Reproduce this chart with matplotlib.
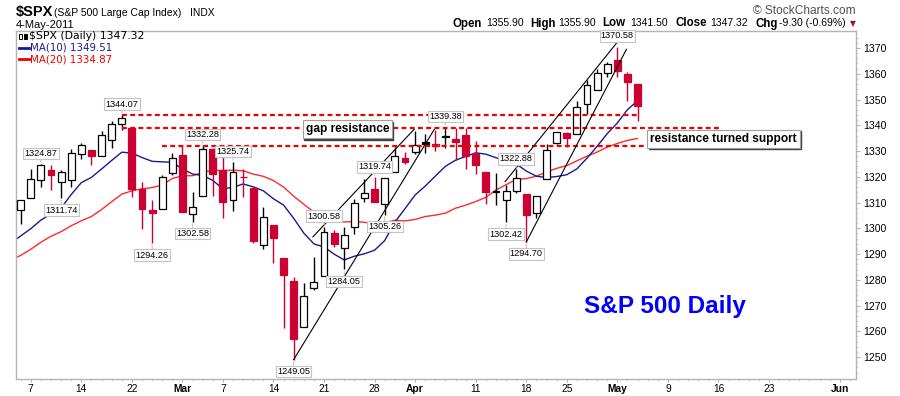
import matplotlib

matplotlib.use("Agg")
import matplotlib.pyplot as plt  # noqa: E402
import numpy as np  # noqa: E402
import pandas as pd  # noqa: E402
from matplotlib.patches import Rectangle  # noqa: E402

plt.rcParams["font.family"] = ["Liberation Sans", "DejaVu Sans"]

# ---- data: $SPX daily bars, 4-Feb-2011 .. 4-May-2011 ----
dates = [
    "Feb 4", "Feb 7", "Feb 8", "Feb 9", "Feb 10", "Feb 11", "Feb 14", "Feb 15",
    "Feb 16", "Feb 17", "Feb 18", "Feb 22", "Feb 23", "Feb 24", "Feb 25", "Feb 28",
    "Mar 1", "Mar 2", "Mar 3", "Mar 4", "Mar 7", "Mar 8", "Mar 9", "Mar 10",
    "Mar 11", "Mar 14", "Mar 15", "Mar 16", "Mar 17", "Mar 18", "Mar 21", "Mar 22",
    "Mar 23", "Mar 24", "Mar 25", "Mar 28", "Mar 29", "Mar 30", "Mar 31",
    "Apr 1", "Apr 4", "Apr 5", "Apr 6", "Apr 7", "Apr 8", "Apr 11", "Apr 12",
    "Apr 13", "Apr 14", "Apr 15", "Apr 18", "Apr 19", "Apr 20", "Apr 21",
    "Apr 25", "Apr 26", "Apr 27", "Apr 28", "Apr 29", "May 2", "May 3", "May 4",
]
opens = [
    1307.01, 1311.85, 1318.76, 1322.48, 1318.13, 1318.66, 1328.73, 1330.43,
    1328.23, 1334.37, 1340.38, 1338.91, 1315.44, 1307.09, 1307.34, 1321.61,
    1328.64, 1305.47, 1312.37, 1330.73, 1322.72, 1311.05, 1319.92, 1315.72,
    1293.43, 1301.19, 1288.46, 1279.46, 1261.61, 1276.71, 1281.65, 1298.29,
    1292.19, 1300.61, 1311.80, 1315.45, 1309.37, 1321.89, 1327.44,
    1329.48, 1333.56, 1332.03, 1335.94, 1334.82, 1336.16, 1329.01, 1321.96,
    1314.03, 1311.13, 1314.54, 1313.35, 1305.99, 1319.12, 1333.23,
    1337.14, 1336.75, 1348.43, 1353.86, 1360.14, 1365.21, 1359.76, 1355.90,
]
highs = [
    1311.00, 1322.85, 1324.87, 1324.54, 1322.78, 1330.79, 1332.96, 1330.43,
    1337.61, 1341.50, 1344.07, 1338.91, 1317.91, 1310.91, 1320.61, 1329.38,
    1332.09, 1314.19, 1332.28, 1331.08, 1327.68, 1325.74, 1323.21, 1315.72,
    1308.35, 1301.19, 1288.46, 1280.91, 1278.88, 1288.88, 1300.58, 1299.35,
    1300.51, 1311.34, 1319.18, 1319.74, 1319.45, 1331.74, 1329.77,
    1337.85, 1336.74, 1338.21, 1339.38, 1338.80, 1338.90, 1333.77, 1321.96,
    1321.35, 1316.79, 1322.88, 1313.35, 1312.70, 1332.66, 1337.49,
    1337.55, 1349.55, 1357.49, 1361.71, 1364.56, 1370.58, 1360.84, 1355.90,
]
lows = [
    1301.67, 1311.85, 1316.03, 1314.89, 1311.74, 1316.08, 1326.90, 1324.61,
    1328.23, 1331.00, 1338.12, 1312.33, 1299.55, 1294.26, 1307.34, 1320.55,
    1306.14, 1302.58, 1312.37, 1312.59, 1303.99, 1306.86, 1312.27, 1294.21,
    1291.99, 1286.37, 1261.12, 1249.05, 1261.61, 1276.18, 1281.65, 1292.70,
    1284.05, 1297.74, 1310.15, 1310.19, 1305.26, 1321.89, 1325.03,
    1328.89, 1329.10, 1330.03, 1331.09, 1326.56, 1322.94, 1321.06, 1309.51,
    1309.19, 1302.42, 1313.68, 1294.70, 1303.97, 1319.12, 1332.83,
    1331.47, 1336.75, 1344.25, 1353.60, 1358.69, 1358.59, 1349.52, 1341.50,
]
closes = [
    1310.87, 1319.05, 1324.57, 1320.88, 1321.87, 1329.15, 1332.32, 1328.01,
    1336.32, 1340.43, 1343.01, 1315.44, 1307.40, 1306.10, 1319.88, 1327.22,
    1306.33, 1308.44, 1330.97, 1321.15, 1310.13, 1321.82, 1320.02, 1295.11,
    1304.28, 1296.39, 1281.87, 1256.88, 1273.72, 1279.21, 1298.38, 1293.77,
    1297.54, 1309.66, 1313.80, 1310.19, 1319.44, 1328.26, 1325.83,
    1332.41, 1332.87, 1332.63, 1335.54, 1333.51, 1328.17, 1324.46, 1314.16,
    1314.41, 1314.52, 1319.68, 1305.14, 1312.62, 1330.36, 1337.38,
    1335.25, 1347.24, 1355.66, 1360.48, 1363.61, 1361.22, 1356.62, 1347.32,
]
# closes 5-Jan .. 3-Feb, only needed to seed the moving averages
prior_closes = [
    1276.56, 1273.85, 1271.50, 1269.75, 1274.48, 1285.96, 1283.76, 1293.24,
    1295.02, 1281.92, 1280.26, 1283.35, 1290.84, 1291.18, 1296.63, 1299.54,
    1276.34, 1286.12, 1307.59, 1304.03, 1307.10,
]

# x-axis: bar number (7-Feb = 0) of each labelled date
tick_pos = [0, 5, 10, 15, 19, 24, 29, 34, 38, 44, 49, 53, 58, 63, 68, 73, 80]
tick_labels = ["7", "14", "22", "Mar", "7", "14", "21", "28", "Apr",
               "11", "18", "25", "May", "9", "16", "23", "Jun"]
month_labels = ["Mar", "Apr", "May", "Jun"]

# high / low value flags
flag_bars = ["Feb 8", "Feb 10", "Feb 18", "Feb 24", "Mar 2", "Mar 3", "Mar 8",
             "Mar 16", "Mar 21", "Mar 23", "Mar 28", "Mar 29", "Apr 6",
             "Apr 14", "Apr 15", "Apr 18", "May 2"]
flag_side = ["high", "low", "high", "low", "low", "high", "high",
             "low", "high", "low", "high", "low", "high",
             "low", "high", "low", "high"]

# hand-drawn annotations (bar number, price)
wedge_lines = [
    ([26.0, 39.9], [1249.05, 1338.4]),
    ([27.9, 37.9], [1296.7, 1338.4]),
    ([49.0, 58.9], [1294.70, 1369.5]),
    ([46.9, 57.9], [1318.1, 1371.8]),
]
level_prices = [1344.07, 1339.0, 1331.8]
level_start = [9, 9, 13]
level_end = [60.1, 68.2, 64.2]

RED = "#cc0033"

# ---- figure ----
W, H = 900, 396
fig = plt.figure(figsize=(9, 3.96), dpi=100)


def fx(px):
    return px / W


def fy(py):
    return 1 - py / H


ax = fig.add_axes([fx(16), fy(379), (856 - 16) / W, (379 - 31) / H])

x = np.arange(len(dates)) - 1
prev_close = [prior_closes[-1]] + closes[:-1]

# moving averages
all_closes = pd.Series(prior_closes + closes)
x_all = np.arange(len(all_closes)) - len(prior_closes) - 1
ma10 = all_closes.rolling(10).mean()
ma20 = all_closes.rolling(20).mean()
keep = x_all >= -2
ax.plot(x_all[keep], ma20[keep], color="#ff2a2a", lw=1.0, zorder=2)
ax.plot(x_all[keep], ma10[keep], color="#1a1a90", lw=1.0, zorder=2)

# candles
body_w = 0.68
for xi, o, h, lo, c, pc in zip(x, opens, highs, lows, closes, prev_close):
    col = RED if c < pc else "black"
    ax.plot([xi, xi], [lo, h], color=col, lw=1.0, zorder=3, solid_capstyle="butt")
    face = col if c < o else "white"
    ax.add_patch(Rectangle((xi - body_w / 2, min(o, c)), body_w, abs(c - o),
                           facecolor=face, edgecolor=col, lw=0.9, zorder=4))

# dashed resistance / support levels
for p, s, e in zip(level_prices, level_start, level_end):
    ax.plot([s, e], [p, p], color="#ee0000", lw=1.6, ls=(0, (2.2, 1.5)), zorder=5)

# wedge trend lines
for xs, ys in wedge_lines:
    ax.plot(xs, ys, color="black", lw=0.8, zorder=5)

# value flags
for d, side in zip(flag_bars, flag_side):
    i = dates.index(d)
    v = highs[i] if side == "high" else lows[i]
    dy = 7.6 if side == "high" else -8.6
    ax.annotate(f"{v:.2f}", xy=(x[i], v), xytext=(0, dy),
                textcoords="offset points", ha="center", va="center",
                fontsize=6.6, zorder=7,
                bbox=dict(boxstyle="square,pad=0.14", fc="white",
                          ec="#c4c4c4", lw=0.8),
                arrowprops=dict(arrowstyle="-", color="#c4c4c4", lw=0.8,
                                shrinkA=0, shrinkB=1.5))


def boxed_note(txt, xc, yc):
    # dark shadow first, then the white box
    ax.annotate(txt, xy=(xc, yc), xytext=(1.0, -1.0), textcoords="offset points",
                ha="center", va="center", fontsize=8.6, fontweight="bold",
                color=(0, 0, 0, 0), zorder=7,
                bbox=dict(boxstyle="square,pad=0.25", fc="#404040", ec="#404040"))
    ax.annotate(txt, xy=(xc, yc), xytext=(0, 0), textcoords="offset points",
                ha="center", va="center", fontsize=8.6, fontweight="bold",
                color="black", zorder=8,
                bbox=dict(boxstyle="square,pad=0.25", fc="white", ec="#a0a0a0",
                          lw=0.8))


boxed_note("gap resistance", 31.3, 1338.5)
boxed_note("resistance turned support", 68.5, 1334.7)

ax.text(62.7, 1269.8, "S&P 500 Daily", color="#0000ff", fontsize=17.5,
        fontweight="bold", ha="center", va="center", zorder=8)

# axes styling
ax.set_xlim(-1.46, 81.6)
ax.set_ylim(1241.5, 1376.6)
for sp in ax.spines.values():
    sp.set_color("#b4b4b4")
    sp.set_linewidth(1.0)

ax.yaxis.tick_right()
ax.set_yticks(np.arange(1250, 1371, 10))
ax.set_yticks(np.arange(1244, 1376, 2), minor=True)
ax.tick_params(axis="y", which="major", direction="out", length=3,
               color="#b4b4b4", labelsize=7.6, pad=2)
ax.tick_params(axis="y", which="minor", direction="out", length=1.5,
               color="#c8c8c8")

ax.set_xticks(tick_pos)
ax.set_xticklabels(tick_labels)
ax.set_xticks(np.arange(-1, 82), minor=True)
ax.tick_params(axis="x", which="major", direction="out", length=2.5,
               color="#b4b4b4", labelsize=7.4, pad=0.8)
ax.tick_params(axis="x", which="minor", direction="out", length=1.5,
               color="#c8c8c8")
for lab in ax.get_xticklabels():
    if lab.get_text() in month_labels:
        lab.set_fontweight("bold")

# legend block inside the panel
fig.text(fx(29), fy(36), "$SPX (Daily) 1347.32", fontsize=7.8,
         va="center", ha="left", family="DejaVu Sans")
fig.add_artist(Rectangle((fx(19), fy(39)), 3 / W, 5 / H, transform=fig.transFigure,
                         fc="white", ec="black", lw=0.7))
fig.add_artist(Rectangle((fx(23.5), fy(39)), 3 / W, 5 / H, transform=fig.transFigure,
                         fc="black", ec="black", lw=0.7))
for txt, col, py in [("MA(10) 1349.51", "#1a1a90", 47.5), ("MA(20) 1334.87", "#ee0000", 59)]:
    fig.add_artist(plt.Line2D([fx(19), fx(28.5)], [fy(py), fy(py)],
                              transform=fig.transFigure, color=col, lw=2))
    fig.text(fx(29.5), fy(py), txt, fontsize=7.4, color=col, va="center",
             ha="left", family="DejaVu Sans")

# header
fig.text(fx(16), fy(12), "$SPX", fontsize=10.5, fontweight="bold", va="center")
fig.text(fx(54), fy(12.5), "(S&P 500 Large Cap Index)", fontsize=7.5, va="center")
fig.text(fx(190), fy(12.5), "INDX", fontsize=7.4, va="center")
fig.text(fx(16), fy(24.5), "4-May-2011", fontsize=8.0, va="center")
fig.text(fx(856), fy(10.5), "\u00a9 StockCharts.com", fontsize=8.6,
         color="#505050", va="center", ha="right")

quote = [("Open", 453, True), ("1355.90", 486, False), ("High", 530.5, True),
         ("1355.90", 558, False), ("Low", 602.5, True), ("1341.50", 630, False),
         ("Close", 675, True), ("1347.32", 710, False), ("Chg", 755, True),
         ("-9.30 (-0.69%)", 779, False)]
for txt, px, bold in quote:
    fig.text(fx(px), fy(23.5), txt, fontsize=8.3 if bold else 7.5,
             fontweight="bold" if bold else "normal", va="center", ha="left")
fig.text(fx(849.5), fy(23.5), "\u25bc", fontsize=5.5, color="#a0103a",
         va="center", ha="left", family=["DejaVu Sans"])

fig.savefig("out.png", dpi=100)
plt.close(fig)
